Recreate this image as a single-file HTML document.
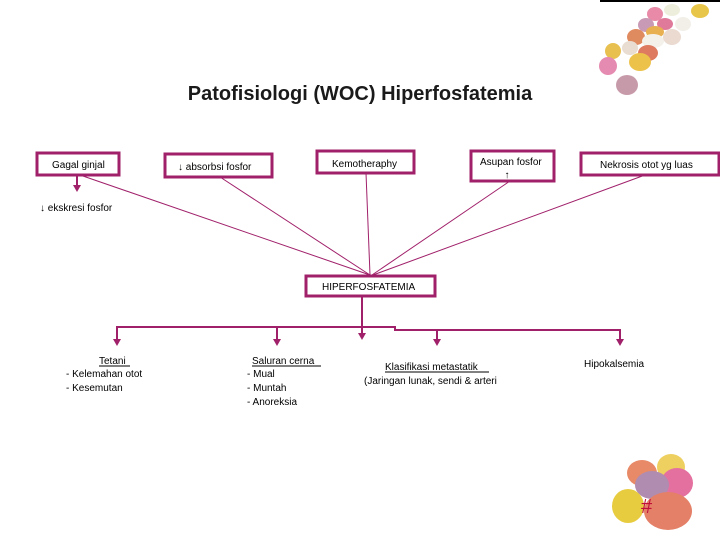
<!DOCTYPE html>
<html><head><meta charset="utf-8"><style>
body{margin:0;background:#fff;}
svg{display:block;}
text{font-family:"Liberation Sans",sans-serif;font-size:10px;fill:#000;}
</style></head><body>
<svg width="720" height="540" viewBox="0 0 720 540" xmlns="http://www.w3.org/2000/svg">
<rect x="600" y="0" width="120" height="2" fill="#000"/>
<ellipse cx="700" cy="11" rx="9" ry="7" fill="#e8c64a"/>
<ellipse cx="655" cy="14" rx="8" ry="7" fill="#e88aa8"/>
<ellipse cx="672" cy="10" rx="8" ry="6" fill="#eed"/>
<ellipse cx="683" cy="24" rx="8" ry="7" fill="#f2efe8"/>
<ellipse cx="665" cy="24" rx="8" ry="6" fill="#e07a9a"/>
<ellipse cx="646" cy="25" rx="8" ry="7" fill="#c99ab5"/>
<ellipse cx="636" cy="37" rx="9" ry="8" fill="#e08a60"/>
<ellipse cx="655" cy="32" rx="9" ry="6" fill="#e8b050"/>
<ellipse cx="653" cy="41" rx="11" ry="7" fill="#f4f0ea"/>
<ellipse cx="672" cy="37" rx="9" ry="8" fill="#eadad0"/>
<ellipse cx="613" cy="51" rx="8" ry="8" fill="#e8c050"/>
<ellipse cx="630" cy="48" rx="8" ry="7" fill="#e8ddd0"/>
<ellipse cx="648" cy="53" rx="10" ry="8" fill="#dd7a60"/>
<ellipse cx="640" cy="62" rx="11" ry="9" fill="#ecc24a"/>
<ellipse cx="608" cy="66" rx="9" ry="9" fill="#e58ab0"/>
<ellipse cx="627" cy="85" rx="11" ry="10" fill="#c79aaa"/>
<ellipse cx="642" cy="473" rx="15" ry="13" fill="#e88a68"/>
<ellipse cx="671" cy="467" rx="14" ry="13" fill="#eed060"/>
<ellipse cx="677" cy="483" rx="16" ry="15" fill="#e470a0"/>
<ellipse cx="652" cy="485" rx="17" ry="14" fill="#b08cb0"/>
<ellipse cx="628" cy="506" rx="16" ry="17" fill="#e8cc40"/>
<ellipse cx="668" cy="511" rx="24" ry="19" fill="#e48068"/>
<text x="641" y="513" style="font-size:20px;fill:#c0103a;font-family:'Liberation Sans',sans-serif">#</text>

<text x="360" y="100" text-anchor="middle" style="font-size:20px;font-weight:bold;fill:#1a1a1a">Patofisiologi (WOC) Hiperfosfatemia</text>

<g fill="#fff" stroke="#a0206a" stroke-width="3">
<rect x="37" y="153" width="82" height="22"/>
<rect x="165" y="154" width="107" height="23"/>
<rect x="317" y="151" width="97" height="22"/>
<rect x="471" y="151" width="83" height="30"/>
<rect x="581" y="153" width="138" height="22"/>
<rect x="306" y="276" width="129" height="20"/>
</g>
<text x="52" y="168">Gagal ginjal</text>
<text x="178" y="170">↓ absorbsi fosfor</text>
<text x="332" y="167">Kemotheraphy</text>
<text x="480" y="165">Asupan fosfor</text>
<text x="507" y="178" text-anchor="middle">↑</text>
<text x="600" y="168">Nekrosis otot yg luas</text>
<text x="322" y="290">HIPERFOSFATEMIA</text>

<g stroke="#a0206a" stroke-width="1" fill="none">
<line x1="80" y1="175" x2="370" y2="275"/>
<line x1="220" y1="177" x2="370" y2="275"/>
<line x1="366" y1="173" x2="370" y2="275"/>
<line x1="510" y1="181" x2="372" y2="275"/>
<line x1="645" y1="175" x2="373" y2="275"/>
</g>
<g stroke="#a0206a" stroke-width="2" fill="none">
<line x1="77" y1="175" x2="77" y2="186"/>
<line x1="362" y1="296" x2="362" y2="333"/>
<polyline points="117,340 117,327 395,327 395,330 620,330 620,340"/>
<line x1="277" y1="327" x2="277" y2="340"/>
<line x1="437" y1="330" x2="437" y2="340"/>
</g>
<g fill="#a0206a">
<polygon points="73,185 81,185 77,192"/>
<polygon points="358,333 366,333 362,340"/>
<polygon points="113,339 121,339 117,346"/>
<polygon points="273,339 281,339 277,346"/>
<polygon points="433,339 441,339 437,346"/>
<polygon points="616,339 624,339 620,346"/>
</g>
<text x="40" y="211">↓ ekskresi fosfor</text>

<text x="99" y="364">Tetani</text>
<line x1="99" y1="366" x2="130" y2="366" stroke="#000" stroke-width="1"/>
<text x="66" y="377">- Kelemahan otot</text>
<text x="66" y="391">- Kesemutan</text>

<text x="252" y="364">Saluran cerna</text>
<line x1="252" y1="366" x2="321" y2="366" stroke="#000" stroke-width="1"/>
<text x="247" y="377">- Mual</text>
<text x="247" y="391">- Muntah</text>
<text x="247" y="405">- Anoreksia</text>

<text x="385" y="370">Klasifikasi metastatik</text>
<line x1="385" y1="372" x2="489" y2="372" stroke="#000" stroke-width="1"/>
<text x="364" y="384">(Jaringan lunak, sendi &amp; arteri</text>

<text x="584" y="367">Hipokalsemia</text>
</svg>
</body></html>
